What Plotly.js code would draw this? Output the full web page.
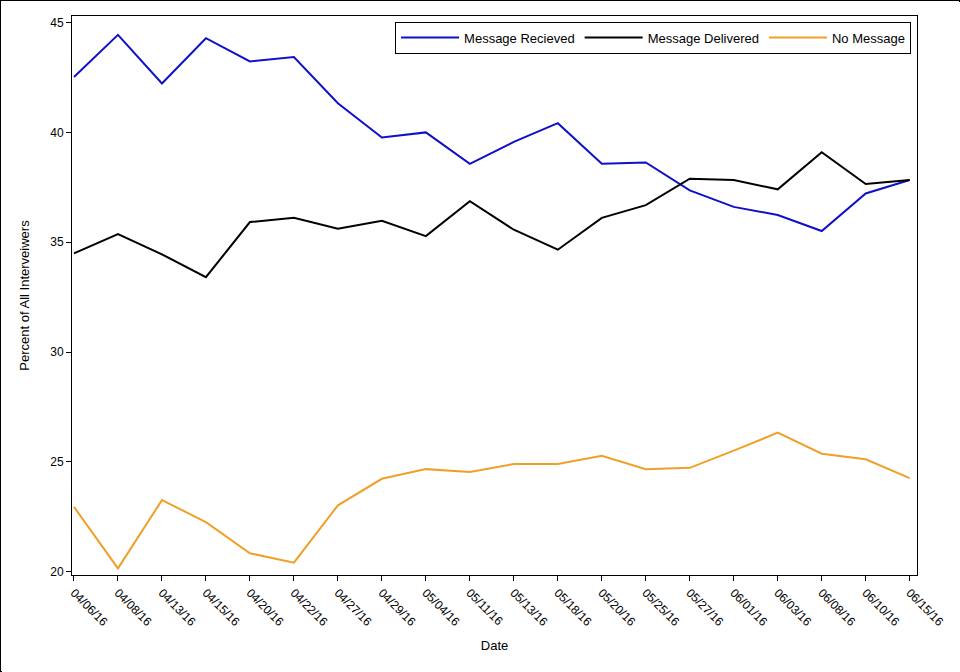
<!DOCTYPE html>
<html>
<head>
<meta charset="utf-8">
<script src="https://cdn.plot.ly/plotly-3.0.1.min.js"></script>
<style>
html, body { margin: 0; padding: 0; background: #fff; }
#frame { position: absolute; left: 0; top: 0; width: 960px; height: 672px; box-sizing: border-box; border: 1px solid #000; }
#chart { position: absolute; left: 1px; top: 1px; width: 958px; height: 670px; }
</style>
</head>
<body>
<div id="frame"><div id="chart"></div></div>
<script>
const dates = ["04/06/16","04/08/16","04/13/16","04/15/16","04/20/16","04/22/16","04/27/16","04/29/16","05/04/16","05/11/16","05/13/16","05/18/16","05/20/16","05/25/16","05/27/16","06/01/16","06/03/16","06/08/16","06/10/16","06/15/16"];
const received = [42.52,44.44,42.23,44.29,43.23,43.43,41.33,39.77,40.00,38.57,39.57,40.42,38.57,38.63,37.36,36.61,36.24,35.51,37.22,37.83];
const delivered = [34.49,35.37,34.45,33.41,35.92,36.11,35.61,35.98,35.28,36.87,35.57,34.66,36.11,36.69,37.89,37.83,37.41,39.10,37.65,37.83];
const noMessage = [22.95,20.15,23.26,22.26,20.84,20.41,23.02,24.23,24.67,24.54,24.90,24.90,25.28,24.67,24.73,25.51,26.33,25.37,25.12,24.26];
const yTicks = [20,25,30,35,40,45];

const idx = dates.map((d, i) => i);
const font = {family: "Liberation Sans, Arial, sans-serif", size: 12, color: "#000"};

const traces = [
  {x: idx, y: received, name: "Message Recieved", mode: "lines", line: {color: "#1010C8", width: 2}},
  {x: idx, y: delivered, name: "Message Delivered", mode: "lines", line: {color: "#000000", width: 2}},
  {x: idx, y: noMessage, name: "No Message", mode: "lines", line: {color: "#F0A028", width: 2}}
];

const layout = {
  width: 958, height: 670,
  margin: {l: 70, r: 43, t: 14, b: 97},
  paper_bgcolor: "#fff", plot_bgcolor: "#fff",
  font: font,
  showlegend: true,
  legend: {
    orientation: "h", x: 0.993, xanchor: "right", y: 0.99, yanchor: "top",
    bordercolor: "#000", borderwidth: 1, bgcolor: "#fff",
    font: {family: font.family, size: 13, color: "#000"},
    itemwidth: 58, tracegroupgap: 0
  },
  xaxis: {
    type: "linear",
    range: [-0.045, 19.166],
    tickmode: "array", tickvals: idx, ticktext: dates,
    tickangle: 45,
    ticks: "outside", ticklen: 5, tickcolor: "#000", tickwidth: 1,
    showline: true, linecolor: "#000", linewidth: 1, mirror: true,
    showgrid: false, zeroline: false,
    tickfont: {family: font.family, size: 12, color: "#000"},
    title: {text: "Date", font: {family: font.family, size: 13, color: "#000"}, standoff: 12}
  },
  yaxis: {
    range: [19.85, 45.3],
    tickmode: "array", tickvals: yTicks,
    ticks: "outside", ticklen: 5, tickcolor: "#000", tickwidth: 1,
    showline: true, linecolor: "#000", linewidth: 1, mirror: true,
    showgrid: false, zeroline: false,
    tickfont: {family: font.family, size: 12, color: "#000"},
    title: {text: "Percent of All Interveiwers", font: {family: font.family, size: 13, color: "#000"}, standoff: 17}
  }
};

Plotly.newPlot("chart", traces, layout, {displayModeBar: false, staticPlot: true});
</script>
</body>
</html>
